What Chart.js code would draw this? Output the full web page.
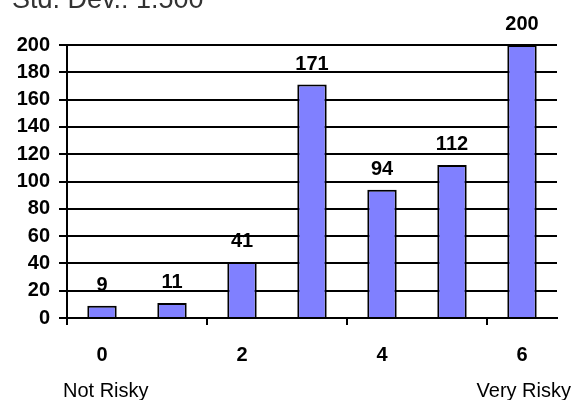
<!DOCTYPE html>
<html>
<head>
<meta charset="utf-8">
<script src="https://cdn.jsdelivr.net/npm/chart.js@4/dist/chart.umd.min.js"></script>
<style>
  body { margin: 0; background: #fff; }
  canvas { display: block; }
</style>
</head>
<body>
<canvas id="chart" width="576" height="400"></canvas>
<script>
const categories = ['0', '1', '2', '3', '4', '5', '6'];
const counts = [9, 11, 41, 171, 94, 112, 200];
const titleText = 'Std. Dev.: 1.500';
const leftLabel = 'Not Risky';
const rightLabel = 'Very Risky';

const FONT = "'Liberation Sans', Arial, sans-serif";

const textPlugin = {
  id: 'texts',
  afterDraw(chart) {
    const ctx = chart.ctx;
    ctx.save();
    ctx.fillStyle = '#333';
    ctx.font = '27px ' + FONT;
    ctx.textAlign = 'left';
    ctx.textBaseline = 'alphabetic';
    ctx.fillText(titleText, 12, 8);

    ctx.fillStyle = '#000';
    ctx.font = '20px ' + FONT;
    ctx.fillText(leftLabel, 63, 397);
    ctx.textAlign = 'right';
    ctx.fillText(rightLabel, 571, 397);

    // value labels over the bars
    ctx.font = 'bold 20px ' + FONT;
    ctx.textAlign = 'center';
    chart.getDatasetMeta(0).data.forEach((bar, i) => {
      ctx.fillText(String(counts[i]), bar.x, bar.y - 15);
    });
    ctx.restore();
  }
};

new Chart(document.getElementById('chart'), {
  type: 'bar',
  data: {
    labels: categories,
    datasets: [{
      data: counts,
      backgroundColor: '#8080ff',
      borderColor: '#000',
      borderWidth: 2,
      barPercentage: 0.42,
      categoryPercentage: 1
    }]
  },
  options: {
    responsive: false,
    animation: false,
    layout: { padding: { left: 0, right: 19, top: 45, bottom: 0 } },
    plugins: {
      legend: { display: false },
      title: { display: false },
      tooltip: { enabled: false }
    },
    scales: {
      x: {
        afterFit(scale) { scale.height = 82; },
        grid: {
          offset: true,
          drawOnChartArea: false,
          tickLength: 7,
          lineWidth: 2,
          color: (c) => (c.index % 2 === 0 ? '#000' : 'rgba(0,0,0,0)')
        },
        border: { color: '#000', width: 2 },
        ticks: {
          autoSkip: false,
          maxRotation: 0,
          padding: 18,
          color: '#000',
          font: { family: FONT, size: 20, weight: 'bold' },
          callback: (v, i) => (i % 2 === 0 ? categories[i] : '')
        }
      },
      y: {
        min: 0,
        max: 200,
        afterFit(scale) { scale.width = 67; },
        grid: { color: '#000', lineWidth: 2, tickLength: 8 },
        border: { color: '#000', width: 2 },
        ticks: {
          stepSize: 20,
          padding: 9,
          color: '#000',
          font: { family: FONT, size: 20, weight: 'bold' }
        }
      }
    }
  },
  plugins: [textPlugin]
});
</script>
</body>
</html>
